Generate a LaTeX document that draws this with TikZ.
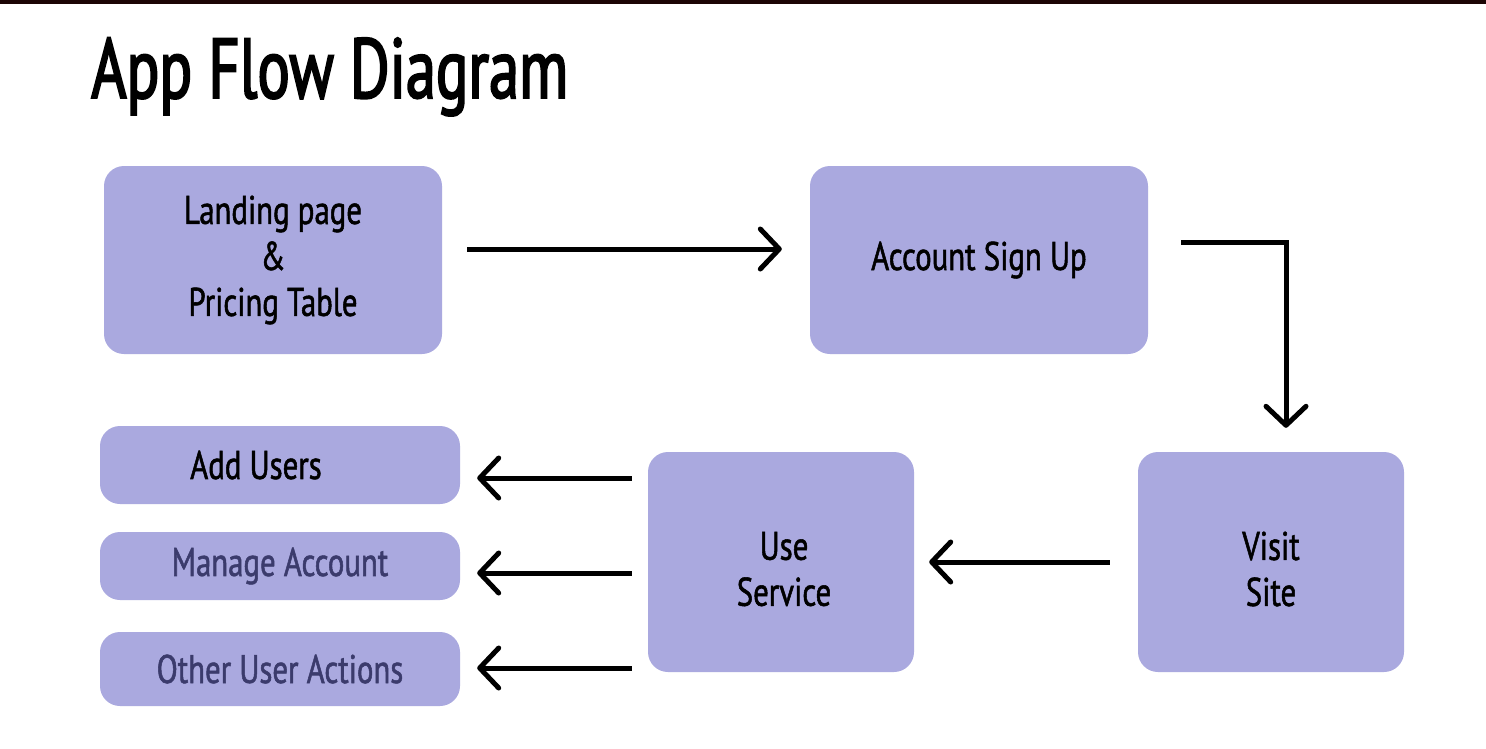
\documentclass[tikz,border=0pt]{standalone}
\usepackage{fontspec}
\setmainfont[FakeStretch=0.77,FakeBold=1.3]{PT Sans}
\newfontfamily\titlefont[FakeStretch=0.713,FakeBold=2.2]{PT Sans}
\usetikzlibrary{arrows.meta}
\definecolor{boxfill}{HTML}{AAA9DF}
\definecolor{navytext}{HTML}{3B3B6C}
\definecolor{topbar}{HTML}{1C0505}
\tikzset{
  flowbox/.style={fill=boxfill, rounded corners=20pt, inner sep=0pt, align=center,
    font=\fontsize{40}{46}\selectfont},
  boxtext/.style={inner sep=0pt, align=center, font=\fontsize{40}{46}\selectfont},
  smallbox/.style={flowbox, minimum width=360pt},
  arr/.style={line width=5pt, -{Straight Barb[length=19pt,width=40pt,line cap=round,line join=round]}}
}
\begin{document}
\begin{tikzpicture}[x=1pt,y=-1pt]
\useasboundingbox (0,0) rectangle (1486,748);
\fill[white] (0,0) rectangle (1486,748);
\fill[topbar] (0,0) rectangle (1486,4);
\node[anchor=base west, inner sep=0pt, font=\titlefont\fontsize{85}{90}\selectfont] (title) at (91,98) {App Flow Diagram};

\node[flowbox, minimum width=338pt, minimum height=188pt] (land) at (273,260) {Landing page\\\&\\Pricing Table};
\node[flowbox, minimum width=338pt, minimum height=188pt] (sign) at (979,260) {Account Sign Up};
\node[flowbox, minimum width=266pt, minimum height=220pt] (visit) at (1271,562) {};
\node[boxtext] (visittext) at ([yshift=-7pt]visit.center) {Visit\\Site};
\node[flowbox, minimum width=266pt, minimum height=220pt] (use) at (781,562) {};
\node[boxtext] (usetext) at ([xshift=3pt,yshift=-7pt]use.center) {Use\\Service};
\node[smallbox, minimum height=78pt] (add) at (280,465) {Add Users\hspace*{48pt}};
\node[smallbox, minimum height=68pt, text=navytext] (manage) at (280,566) {Manage Account};
\node[smallbox, minimum height=74pt, text=navytext] (other) at (280,669) {Other User Actions};

\draw[arr] ([xshift=25pt,yshift=11pt]land.east) -- ([xshift=-28pt,yshift=11pt]sign.east -| sign.west);
\draw[arr] ([xshift=33pt,yshift=18pt]sign.east) -| ([xshift=15pt,yshift=24pt]visit.north);
\draw[arr] ([xshift=-28pt]visit.west) -- ([xshift=15pt]use.east);
\draw[arr] ([xshift=-16pt]use.west |- 0,478) -- ([xshift=17pt]add.east |- 0,478);
\draw[arr] ([xshift=-16pt]use.west |- 0,573) -- ([xshift=17pt]manage.east |- 0,573);
\draw[arr] ([xshift=-16pt]use.west |- 0,668) -- ([xshift=17pt]other.east |- 0,668);
\end{tikzpicture}
\end{document}
